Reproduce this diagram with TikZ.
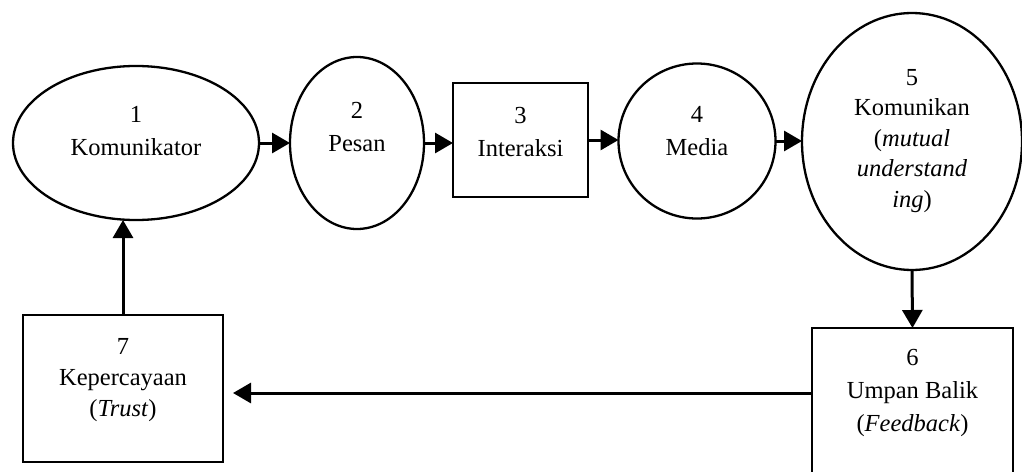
\documentclass[tikz,border=0pt]{standalone}
\usepackage{fontspec}
\setmainfont{Liberation Serif}
\usetikzlibrary{arrows.meta,shapes.geometric}
\tikzset{
  shapeline/.style={draw=black, line width=2.3pt, inner sep=0pt, outer sep=0pt},
  oval/.style={shapeline, ellipse},
  boxnode/.style={shapeline, rectangle},
  label text/.style={align=center, font=\fontsize{24.5}{33}\selectfont, text=black, inner sep=0pt},
  flow/.style={line width=3pt, -{Triangle[length=18pt,width=20pt]}}
}
\begin{document}
\begin{tikzpicture}[x=1pt,y=-1pt]
  \clip (0,0) rectangle (1022,471);
  \fill[white] (0,0) rectangle (1022,471);

  % shapes of the seven stages
  \node[oval, minimum width=246pt, minimum height=154pt] (n1) at (136,143) {};
  \node[oval, minimum width=134pt, minimum height=172pt] (n2) at (357,143) {};
  \node[boxnode, minimum width=135pt, minimum height=114pt] (n3) at (520.5,140) {};
  \node[oval, minimum width=157pt, minimum height=155pt] (n4) at (697,141) {};
  \node[oval, minimum width=220pt, minimum height=257pt] (n5) at (912,141.5) {};
  \node[boxnode, minimum width=201pt, minimum height=152pt] (n6) at (912.5,404) {};
  \node[boxnode, minimum width=200pt, minimum height=147pt] (n7) at (123,388.5) {};

  % stage texts
  \node[label text] (t1) at (136,131) {1\\Komunikator};
  \node[label text] (t2) at (357,127) {2\\Pesan};
  \node[label text] (t3) at (520.5,132) {3\\Interaksi};
  \node[label text] (t4) at (697,131) {4\\Media};
  \node[label text, font=\fontsize{24.5}{30.5}\selectfont] (t5) at (912,141) {5\\Komunikan\\(\textit{mutual}\\\textit{understand}\\\textit{ing})};
  \node[label text] (t6) at (912.5,393) {6\\Umpan Balik\\(\textit{Feedback})};
  \node[label text, font=\fontsize{24.5}{31}\selectfont] (t7) at (123,380) {7\\Kepercayaan\\(\textit{Trust})};

  % connectors
  \draw[flow] (n1.east) -- (n1.east -| n2.west);
  \draw[flow] (n2.east) -- (n2.east -| n3.west);
  \draw[flow] (n3.east) -- (n3.east -| n4.west);
  \draw[flow] (n4.east) -- (n4.east -| n5.west);
  \draw[flow] (n5.south) -- (n6.north);
  \draw[flow, shorten >=10pt] (n6.west |- 0,393) coordinate (c6) -- (c6 -| n7.east);
  \draw[flow] (n7.north) -- (n7.north |- 0,220) coordinate (c1);
\end{tikzpicture}
\end{document}
